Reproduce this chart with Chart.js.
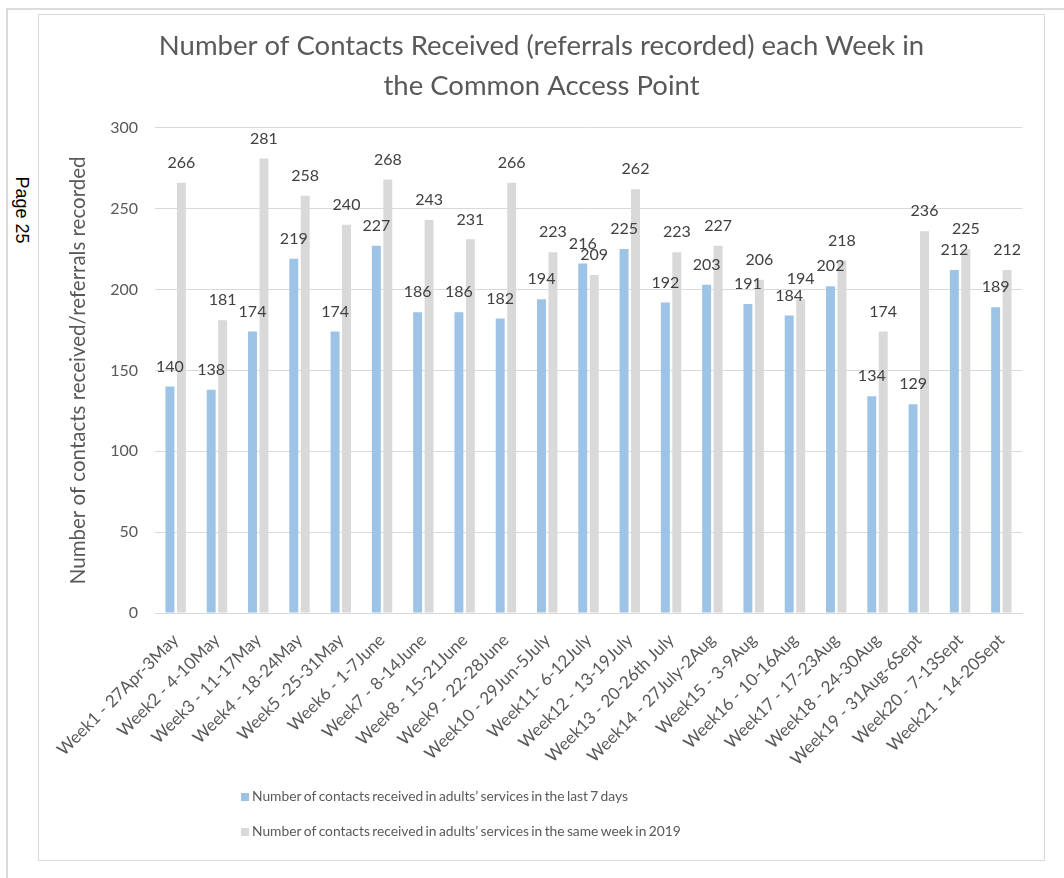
<!DOCTYPE html>
<html>
<head>
<meta charset="utf-8">
<script src="https://cdn.jsdelivr.net/npm/chart.js@4.4.1/dist/chart.umd.min.js"></script>
<style>
  html, body { margin:0; padding:0; background:#fff; width:1064px; height:878px; overflow:hidden; }
  #pageTop { position:absolute; left:7px; top:8px; width:1057px; height:2px; background:#dcdcdc; }
  #pageLeft { position:absolute; left:6px; top:8px; width:2px; height:870px; background:#dcdcdc; }
  #frame { position:absolute; left:38px; top:14px; width:1007px; height:847px; border:1px solid #d9d9d9; box-sizing:border-box; }
  #wrap { position:absolute; left:38px; top:14px; width:1007px; height:847px; }
  #page { position:absolute; left:21px; top:210px; transform:translate(-50%,-50%) rotate(90deg); font-family:"Liberation Sans", Arial, sans-serif; font-size:18px; color:#000; white-space:nowrap; }
</style>
</head>
<body>
<div id="pageTop"></div>
<div id="pageLeft"></div>
<div id="page">Page 25</div>
<div id="frame"></div>
<div id="wrap"><canvas id="c" width="1007" height="847"></canvas></div>
<script>
const weekLabels = ['Week1 - 27Apr-3May','Week2 - 4-10May','Week3 - 11-17May','Week4 - 18-24May','Week5 -25-31May','Week6 - 1-7June','Week7 - 8-14June','Week8 - 15-21June','Week9 - 22-28June','Week10 - 29Jun-5July','Week11- 6-12July','Week12 - 13-19July','Week13 - 20-26th July','Week14 - 27July-2Aug','Week15 - 3-9Aug','Week16 - 10-16Aug','Week17 - 17-23Aug','Week18 - 24-30Aug','Week19 - 31Aug-6Sept','Week20 - 7-13Sept','Week21 - 14-20Sept'];
const last7Days = [140,138,174,219,174,227,186,186,182,194,216,225,192,203,191,184,202,134,129,212,189];
const sameWeek2019 = [266,181,281,258,240,268,243,231,266,223,209,262,223,227,206,194,218,174,236,225,212];
const seriesNames = ['Number of contacts received in adults\u2019 services in the last 7 days','Number of contacts received in adults\u2019 services in the same week in 2019'];
const titleLines = ['Number of Contacts Received (referrals recorded) each Week in','the Common Access Point'];
const yTitle = 'Number of contacts received/referrals recorded';

const FONT = 'Lato, "Open Sans", sans-serif';

const dataLabelPlugin = {
  id: 'dataLabels',
  afterDatasetsDraw(chart) {
    const ctx = chart.ctx;
    ctx.save();
    ctx.font = '16px ' + FONT;
    ctx.fillStyle = '#404040';
    ctx.textAlign = 'center';
    ctx.textBaseline = 'middle';
    chart.data.datasets.forEach((ds, i) => {
      const meta = chart.getDatasetMeta(i);
      meta.data.forEach((el, j) => {
        ctx.fillText(String(ds.data[j]), el.x, el.y - 20);
      });
    });
    ctx.restore();
  }
};

const legendPlugin = {
  id: 'customLegend',
  afterDraw(chart) {
    const ctx = chart.ctx;
    ctx.save();
    ctx.font = '13.8px ' + FONT;
    if ('wordSpacing' in ctx) ctx.wordSpacing = '-1.2px';
    ctx.textBaseline = 'middle';
    ctx.textAlign = 'left';
    const rows = [783, 818];
    chart.data.datasets.forEach((ds, i) => {
      const y = rows[i];
      ctx.fillStyle = ds.backgroundColor;
      ctx.fillRect(203, y - 4, 8, 8);
      ctx.fillStyle = '#595959';
      ctx.fillText(ds.label, 214, y);
    });
    ctx.restore();
  }
};

new Chart(document.getElementById('c'), {
  type: 'bar',
  data: {
    labels: weekLabels,
    datasets: [
      { label: seriesNames[0], data: last7Days, backgroundColor: '#9dc3e6', categoryPercentage: 0.555, barPercentage: 0.78 },
      { label: seriesNames[1], data: sameWeek2019, backgroundColor: '#d9d9d9', categoryPercentage: 0.555, barPercentage: 0.78 }
    ]
  },
  options: {
    responsive: false,
    animation: false,
    layout: { padding: 0 },
    plugins: {
      legend: { display: false },
      tooltip: { enabled: false },
      title: {
        display: true,
        text: titleLines,
        color: '#595959',
        font: { family: FONT, size: 27.5, weight: 'normal', lineHeight: 1.45 },
        padding: { top: 12, bottom: 22 }
      }
    },
    scales: {
      x: {
        grid: { display: false, drawTicks: false },
        border: { display: true, color: '#d9d9d9', width: 1 },
        ticks: { color: '#595959', font: { family: FONT, size: 17 }, maxRotation: 45, minRotation: 45, autoSkip: false, padding: 17 },
        afterFit(s) { s.height = 248; }
      },
      y: {
        min: 0, max: 300,
        ticks: { stepSize: 50, color: '#595959', font: { family: FONT, size: 16 }, padding: 17 },
        grid: { color: '#d9d9d9', lineWidth: 1, drawTicks: false },
        border: { display: false },
        title: { display: true, text: yTitle, color: '#595959', font: { family: FONT, size: 20.5 }, padding: { top: 28, bottom: 0 } },
        afterFit(s) { s.width = 117; }
      },
      yRight: {
        axis: 'y',
        position: 'right',
        min: 0, max: 300,
        grid: { display: false, drawTicks: false },
        border: { display: false },
        ticks: { display: false },
        afterFit(s) { s.width = 23; }
      }
    }
  },
  plugins: [dataLabelPlugin, legendPlugin]
});
</script>
</body>
</html>
